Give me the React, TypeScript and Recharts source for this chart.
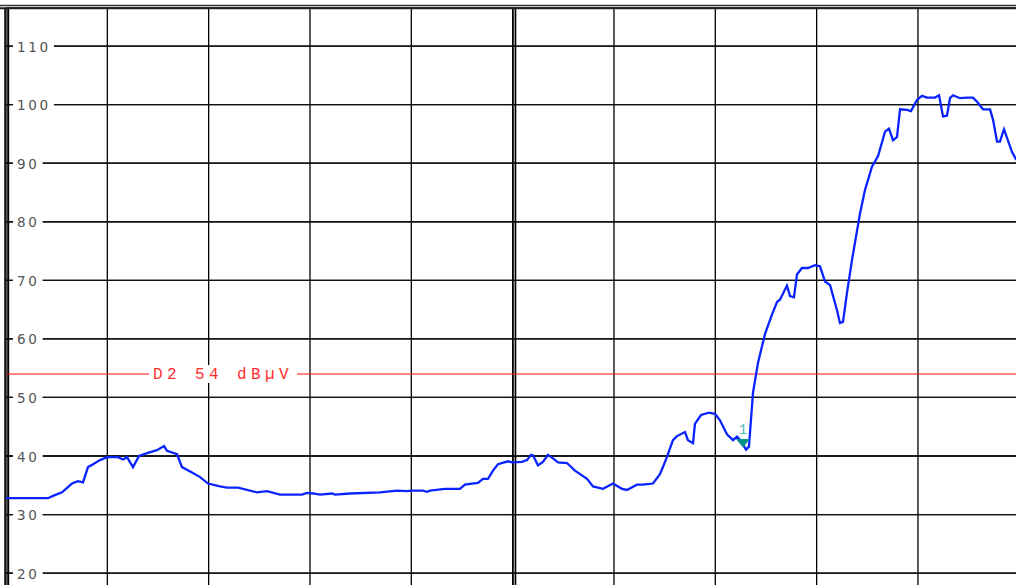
import React from "react";
import {
  LineChart,
  Line,
  XAxis,
  YAxis,
  CartesianGrid,
  ReferenceLine,
  ReferenceDot,
} from "recharts";

// Frequency axis (arbitrary span units, 0..1000 = full screen width)
const freqs: number[] = [
  0, 41.4, 46.4, 55.3, 65.1, 71.1, 76, 80.9, 85.9, 92.8, 99.7, 110.5, 115.5, 119.4, 125.3, 131.3,
  139.2, 149, 156, 158.9, 168.8, 173.7, 183.6, 191.5, 199.4, 211.2, 218.1, 229, 247.7, 257.6, 270.4,
  292.1, 297, 303, 309.9, 321.7, 324.7, 339.5, 369.1, 385.9, 395.7, 400.7, 411.5, 415.5, 418.4,
  433.2, 448, 452.9, 459.9, 465.8, 470.7, 475.7, 480.6, 485.5, 495.4, 499.4, 509.2, 514.2, 518.1,
  520.1, 525, 529.9, 534.9, 539.8, 544.8, 553.6, 561.5, 573.4, 579.3, 589.2, 599, 607.9, 612.8,
  622.7, 628.6, 638.5, 645.4, 651.3, 658.2, 662.2, 670.1, 673, 678, 679.9, 685.9, 693.8, 699.7,
  704.6, 711.5, 717.5, 721.4, 724.4, 730.3, 733.2, 737.2, 742.1, 749, 756, 760.9, 763.8, 770.7,
  773.7, 777.6, 780.6, 785.5, 791.4, 798.4, 803.3, 808.3, 813.2, 820.1, 823, 826, 829.9, 834.9,
  842.8, 847.7, 854.6, 860.6, 867.5, 871.4, 875.4, 879.3, 882.3, 889.2, 893.1, 899, 904, 908.9,
  916.8, 920.8, 924.7, 928.6, 931.6, 934.6, 941.5, 948.4, 954.3, 958.3, 964.2, 971.1, 974.1, 978,
  980.9, 984.9, 992.8, 996.7, 1000,
];

// Level in dBµV
const levels: number[] = [
  32.8, 32.8, 33.2, 33.8, 35.3, 35.7, 35.5, 38.1, 38.6, 39.3, 39.8, 39.8, 39.4, 39.8, 38.1, 40.0,
  40.5, 41.0, 41.7, 40.9, 40.3, 38.1, 37.2, 36.4, 35.3, 34.8, 34.6, 34.6, 33.8, 34.0, 33.4,
  33.4, 33.7, 33.6, 33.4, 33.6, 33.4, 33.6, 33.8, 34.1, 34.0, 34.1, 34.1, 33.9, 34.1,
  34.4, 34.4, 35.1, 35.3, 35.4, 36.1, 36.1, 37.5, 38.6, 39.1, 38.9, 39.0, 39.3, 40.2,
  40.1, 38.4, 39.0, 40.2, 39.6, 38.9, 38.8, 37.5, 36.1, 34.8, 34.4, 35.3, 34.4, 34.2,
  35.1, 35.1, 35.3, 36.9, 39.4, 42.7, 43.4, 44.1, 42.7, 42.2, 45.5, 47.0, 47.4, 47.2,
  46.1, 43.7, 42.7, 43.3, 42.8, 41.1, 41.6, 50.8, 55.9, 60.8, 64.2, 66.3, 66.7, 69.1,
  67.3, 67.1, 71.0, 72.1, 72.1, 72.6, 72.4, 69.8, 69.2, 64.9, 62.7, 62.9, 67.8, 73.5,
  81.4, 85.4, 89.4, 91.2, 95.4, 95.9, 93.9, 94.5, 99.2, 99.1, 98.9, 100.8, 101.5, 101.2,
  101.2, 101.6, 98.0, 98.1, 101.1, 101.6, 101.1, 101.2, 101.2, 100.5, 99.2, 99.2, 97.4, 93.7,
  93.7, 95.8, 91.9, 90.7, 90.3,
];

const yTicks: number[] = [20, 30, 40, 50, 60, 70, 80, 90, 100, 110];
const xTicks: number[] = [0, 100, 200, 300, 400, 500, 600, 700, 800, 900, 1000];
const yDomain: [number, number] = [10, 116.5];
const xDomain: [number, number] = [0, 1000];

const displayLine = 54;
const displayLineLabel = "D2 54 dBµV";
const markerFreq = [727.3];
const markerLevel = [42.8];
const markerLabel = ["1"];

const data = freqs.map((f, i) => ({ f, v: levels[i] }));

const renderYLabel = (props: any, value: number) => {
  const vb = props.viewBox || {};
  const x = vb.x ?? 0;
  const y = vb.y ?? 0;
  const text = String(value);
  const w = text.length * 11.3;
  return (
    <g>
      <rect x={x + 7} y={y - 8} width={w + 7} height={16} fill="#ffffff" />
      <text
        x={x + 11}
        y={y + 0.5}
        dominantBaseline="central"
        fill="#555555"
        style={{ fontSize: "13.5px", fontFamily: "'DejaVu Sans', sans-serif", letterSpacing: "2.6px" }}
      >
        {text}
      </text>
    </g>
  );
};

const renderD2Label = (props: any) => {
  const vb = props.viewBox || {};
  const x = vb.x ?? 0;
  const y = vb.y ?? 0;
  return (
    <g>
      <rect x={x + 143} y={y - 9} width={148} height={18} fill="#ffffff" />
      <text
        x={x + 147}
        y={y + 0.5}
        dominantBaseline="central"
        fill="#ff3030"
        style={{ fontSize: "16px", fontFamily: "'Liberation Mono', 'DejaVu Sans Mono', monospace", letterSpacing: "4.4px" }}
      >
        {displayLineLabel}
      </text>
    </g>
  );
};

const DoubleV = (offA: number, offB: number, wA: number, wB: number) => (p: any) => (
  <g>
    <line x1={p.x1 + offA} x2={p.x2 + offA} y1={p.y1} y2={p.y2} stroke="#000" strokeWidth={wA} />
    <line x1={p.x1 + offB} x2={p.x2 + offB} y1={p.y1} y2={p.y2} stroke="#000" strokeWidth={wB} />
  </g>
);

const DoubleH = (offA: number, offB: number, wA: number, wB: number) => (p: any) => (
  <g>
    <line x1={0} x2={p.x2 + 20} y1={p.y1 + offA} y2={p.y2 + offA} stroke="#333" strokeWidth={wA} />
    <line x1={0} x2={p.x2 + 20} y1={p.y1 + offB} y2={p.y2 + offB} stroke="#222" strokeWidth={wB} />
  </g>
);

const MarkerShape = (label: string) => (p: any) => {
  const cx = p.cx;
  const cy = p.cy;
  return (
    <g>
      <polygon
        points={`${cx - 7},${cy - 0.5} ${cx + 7},${cy - 0.5} ${cx},${cy + 8}`}
        fill="#0a9488"
      />
      <text
        x={cx}
        y={cy - 10}
        textAnchor="middle"
        dominantBaseline="central"
        fill="#4cb8b8"
        style={{ fontSize: "14px", fontFamily: "'Liberation Mono', monospace" }}
      >
        {label}
      </text>
    </g>
  );
};

export default function App() {
  return (
    <div style={{ position: "absolute", left: 0, top: 0, width: 1016, height: 585, overflow: "hidden", background: "#fff" }}>
      <LineChart
        width={1030}
        height={640}
        data={data}
        margin={{ top: 8, right: 10.7, bottom: 8.3, left: 6 }}
      >
        <XAxis dataKey="f" type="number" domain={xDomain} ticks={xTicks} hide allowDataOverflow />
        <YAxis type="number" domain={yDomain} ticks={yTicks} hide allowDataOverflow />
        <CartesianGrid stroke="#000" strokeWidth={1.3} />
        {yTicks.map((t) => (
          <ReferenceLine
            key={t}
            y={t}
            stroke="#111"
            strokeWidth={1.3}
            label={(props: any) => renderYLabel(props, t)}
          />
        ))}
        <ReferenceLine x={0} shape={DoubleV(-1, 2.2, 1.5, 2)} />
        <ReferenceLine x={500} shape={DoubleV(0.2, 2.8, 1.7, 1.7)} />
        <ReferenceLine y={116.5} shape={DoubleH(-2.5, 0.2, 1.5, 2)} />
        <ReferenceLine
          y={displayLine}
          stroke="#ff1010"
          strokeWidth={1}
          label={renderD2Label}
        />
        <Line
          type="linear"
          dataKey="v"
          stroke="#0a24ff"
          strokeWidth={2.3}
          dot={false}
          isAnimationActive={false}
        />
        {markerFreq.map((mf, i) => (
          <ReferenceDot
            key={i}
            x={mf}
            y={markerLevel[i]}
            r={6}
            shape={MarkerShape(markerLabel[i])}
          />
        ))}
      </LineChart>
    </div>
  );
}
